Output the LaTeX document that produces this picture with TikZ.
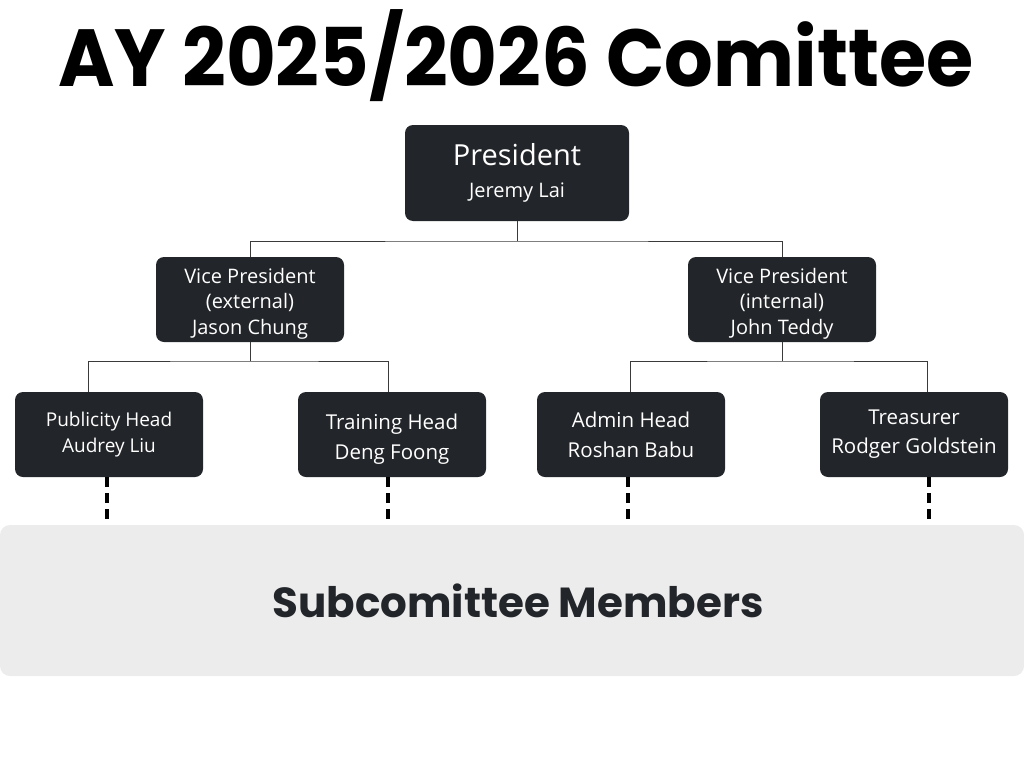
\documentclass[tikz,border=0pt]{standalone}
\usepackage{fontspec}
\setmainfont{Open Sans}
\newfontfamily\titlefont{Poppins}
\usepackage{tikz}
\usetikzlibrary{positioning, calc}
\usepackage{xcolor}
\definecolor{boxdark}{HTML}{222529}
\definecolor{panelgrey}{HTML}{ECECEC}
\definecolor{linegrey}{HTML}{3A3A3A}
\newcommand{\lowered}[2]{\raisebox{-#1}[\height][\depth]{\begin{tabular}{@{}c@{}}#2\end{tabular}}}
\tikzset{
  rolebox/.style={rectangle, rounded corners=8pt, fill=boxdark, text=white,
    minimum width=188pt, minimum height=85pt, align=center, inner sep=2pt,
    font=\fontsize{20}{25.5}\selectfont},
  link/.style={draw=linegrey, line width=0.9pt},
  subline/.style={draw=black, line width=3.5pt, dash pattern=on 10pt off 6pt}
}

\begin{document}
\begin{tikzpicture}[x=1pt, y=-1pt]
            \useasboundingbox (0,0) rectangle (1024,768);

            % title
            \node (title) at (516,56) {\scalebox{0.945}[1]{\titlefont\bfseries\fontsize{81}{84}\selectfont AY 2025/2026 Comittee}};

            % subcommittee panel
            \fill[panelgrey, rounded corners=10pt] (0,525) rectangle (1024,676);
            \node (subs) at (518,601) {\titlefont\bfseries\color{boxdark}\fontsize{42}{44}\selectfont Subcomittee Members};

            % president
            \node[rolebox, minimum width=224pt, minimum height=96pt] (pres) at (517,173)
                {{\fontsize{29}{34}\selectfont President}\\[7pt]Jeremy Lai};

            % vice presidents
            \node[rolebox] (vpe) at (250,299.5) {\lowered{4pt}{Vice President\\(external)\\Jason Chung}};
            \node[rolebox] (vpi) at (782,299.5) {\lowered{4pt}{Vice President\\(internal)\\John Teddy}};

            % heads
            \node[rolebox, font=\fontsize{19}{26}\selectfont] (pub) at (109,434.5) {Publicity Head\\Audrey Liu};
            \node[rolebox, font=\fontsize{20.5}{30}\selectfont] (train) at (392,434.5) {\lowered{4pt}{Training Head\\Deng Foong}};
            \node[rolebox, font=\fontsize{20.5}{30}\selectfont] (admin) at (631,434.5) {Admin Head\\Roshan Babu};
            \node[rolebox, font=\fontsize{20.5}{29}\selectfont] (treas) at (914,434.5) {Treasurer\\Rodger Goldstein};

            % tree lines
            \coordinate (j1) at (517,241);
            \coordinate (j2) at (250,361);
            \coordinate (j3) at (782,361);
            \draw[link] (pres.south) -- (j1);
            \draw[link] (vpe.north) |- (j1) -| (vpi.north);
            \draw[link] (vpe.south) -- (j2);
            \draw[link] ([xshift=-21pt]pub.north) |- (j2) -| ([xshift=-4pt]train.north);
            \draw[link] (vpi.south) -- (j3);
            \draw[link] ([xshift=-1pt]admin.north) |- (j3) -| ([xshift=13pt]treas.north);

            % dashed drops to panel
            \coordinate (d1) at (107,522);
            \coordinate (d2) at (388,522);
            \coordinate (d3) at (628,522);
            \coordinate (d4) at (929,522);
            \draw[subline] (pub.south -| d1) -- (d1);
            \draw[subline] (train.south -| d2) -- (d2);
            \draw[subline] (admin.south -| d3) -- (d3);
            \draw[subline] (treas.south -| d4) -- (d4);
        \end{tikzpicture}
\end{document}
